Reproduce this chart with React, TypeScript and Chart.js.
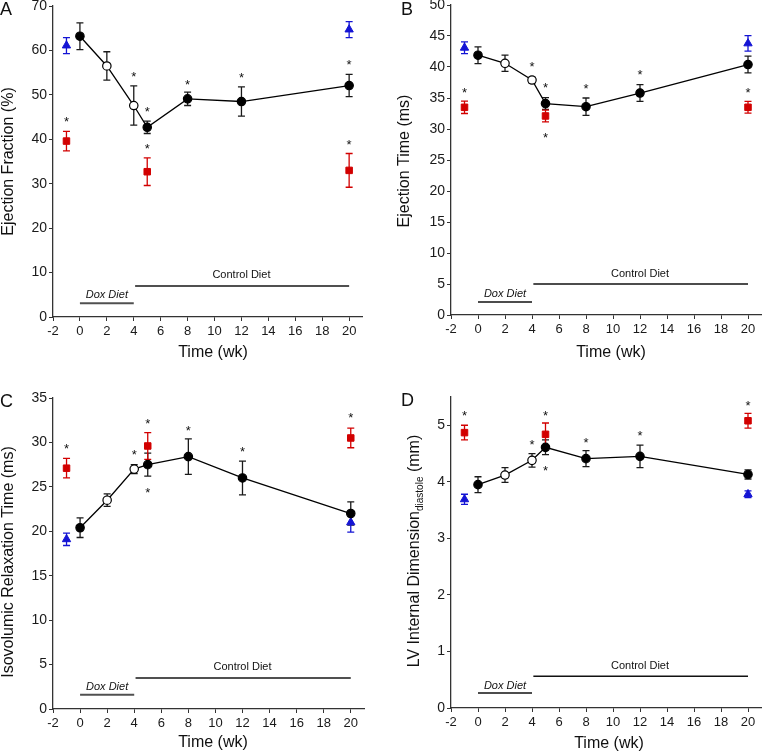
import React, { useEffect, useRef } from 'react';
import { Chart, registerables } from 'chart.js';

Chart.register(...registerables);

const FONT = '"Liberation Sans", Arial, Helvetica, sans-serif';

// ---------- shared ----------
const timeTicks = [-2, 0, 2, 4, 6, 8, 10, 12, 14, 16, 18, 20];
const lineWeeks = [0, 2, 4, 5, 8, 12, 20];
const openWeeks = [2, 4];
const blueWeeks = [-1, 20];
const redWeeks = [-1, 5, 20];
const doxSpan = [0, 4];
const controlSpan = [4.1, 20];
const dietLabels = ['Dox Diet', 'Control Diet'];
const dietLabelWeeks = [2, 12];

// ---------- A: Ejection Fraction ----------
const efMean = [63.2, 56.5, 47.6, 42.7, 49.1, 48.5, 52.1];
const efErr = [3.0, 3.2, 4.4, 1.4, 1.5, 3.3, 2.5];
const efBlue = [61.1, 64.7];
const efBlueErr = [1.8, 1.8];
const efRed = [39.6, 32.7, 33.0];
const efRedErr = [2.2, 3.1, 3.8];
const efStarWeeks = [-1, 4, 5, 5, 8, 12, 20, 20];
const efStarY = [44.6, 54.8, 46.9, 38.5, 53.0, 54.6, 57.4, 39.5];
const efTicks = [0, 10, 20, 30, 40, 50, 60, 70];
const efDietBarY = [3.1, 7.0];
const efDietLabelY = [5.0, 9.45];

// ---------- B: Ejection Time ----------
const etMean = [41.9, 40.6, 37.9, 34.1, 33.6, 35.8, 40.4];
const etErr = [1.35, 1.3, 0.45, 0.95, 1.4, 1.35, 1.35];
const etBlue = [43.1, 43.8];
const etBlueErr = [0.95, 1.25];
const etRed = [33.5, 32.1, 33.5];
const etRedErr = [1.0, 0.95, 0.95];
const etStarWeeks = [-1, 4, 5, 5, 8, 12, 20];
const etStarY = [36.4, 40.6, 37.1, 29.1, 37.0, 39.2, 36.4];
const etTicks = [0, 5, 10, 15, 20, 25, 30, 35, 40, 45, 50];
const etDietBarY = [2.1, 5.0];
const etDietLabelY = [3.4, 6.6];

// ---------- C: Isovolumic Relaxation Time ----------
const ivMean = [20.4, 23.5, 27.0, 27.5, 28.4, 26.0, 22.0];
const ivErr = [1.1, 0.7, 0.5, 1.3, 2.0, 1.9, 1.3];
const ivBlue = [19.1, 21.0];
const ivBlueErr = [0.7, 1.1];
const ivRed = [27.1, 29.6, 30.5];
const ivRedErr = [1.1, 1.5, 1.1];
const ivStarWeeks = [-1, 4, 5, 5, 8, 12, 20];
const ivStarY = [29.7, 29.0, 32.5, 24.7, 31.7, 29.3, 33.1];
const ivTicks = [0, 5, 10, 15, 20, 25, 30, 35];
const ivDietBarY = [1.6, 3.5];
const ivDietLabelY = [2.5, 4.7];

// ---------- D: LV Internal Dimension diastole ----------
const lvMean = [3.95, 4.12, 4.38, 4.61, 4.41, 4.45, 4.13];
const lvErr = [0.14, 0.13, 0.12, 0.13, 0.14, 0.2, 0.08];
const lvBlue = [3.69, 3.78];
const lvBlueErr = [0.09, 0.06];
const lvRed = [4.87, 4.84, 5.08];
const lvRedErr = [0.13, 0.2, 0.13];
const lvStarWeeks = [-1, 4, 5, 5, 8, 12, 20];
const lvStarY = [5.22, 4.71, 5.22, 4.25, 4.74, 4.87, 5.41];
const lvTicks = [0, 1, 2, 3, 4, 5];
const lvDietBarY = [0.265, 0.56];
const lvDietLabelY = [0.39, 0.75];

const BLUE = '#1414d4';
const RED = '#d20000';
const M = 20; // canvas margin around each panel
const PW = 381;
const PH = 377;

type Part = { text: string; size: number; dy: number };

const panels = [
  {
    letter: 'A', px: 0, py: 0,
    area: { l: 53, t: 6, r: 362.6, b: 317 },
    yMax: 70, yTicks: efTicks,
    mean: efMean, err: efErr, blue: efBlue, blueErr: efBlueErr, red: efRed, redErr: efRedErr,
    starWeeks: efStarWeeks, starY: efStarY, dietBarY: efDietBarY, dietLabelY: efDietLabelY,
    dietColor: '#505050', dietWidth: 2,
    yTitle: [{ text: 'Ejection Fraction (%)', size: 16, dy: 0 }] as Part[],
    yTitlePos: [8.5, 161.5], xTitlePos: [213, 353], letterPos: [0, 15],
  },
  {
    letter: 'B', px: 381, py: 0,
    area: { l: 70, t: 5, r: 380.5, b: 315 },
    yMax: 50, yTicks: etTicks,
    mean: etMean, err: etErr, blue: etBlue, blueErr: etBlueErr, red: etRed, redErr: etRedErr,
    starWeeks: etStarWeeks, starY: etStarY, dietBarY: etDietBarY, dietLabelY: etDietLabelY,
    dietColor: '#111', dietWidth: 1.5,
    yTitle: [{ text: 'Ejection Time (ms)', size: 16, dy: 0 }] as Part[],
    yTitlePos: [24, 161], xTitlePos: [230, 353], letterPos: [20, 15],
  },
  {
    letter: 'C', px: 0, py: 377,
    area: { l: 53, t: 21, r: 364.3, b: 332 },
    yMax: 35, yTicks: ivTicks,
    mean: ivMean, err: ivErr, blue: ivBlue, blueErr: ivBlueErr, red: ivRed, redErr: ivRedErr,
    starWeeks: ivStarWeeks, starY: ivStarY, dietBarY: ivDietBarY, dietLabelY: ivDietLabelY,
    dietColor: '#505050', dietWidth: 2,
    yTitle: [{ text: 'Isovolumic Relaxation Time (ms)', size: 16, dy: 0 }] as Part[],
    yTitlePos: [8.5, 185], xTitlePos: [213, 366], letterPos: [0, 30],
  },
  {
    letter: 'D', px: 381, py: 377,
    area: { l: 70, t: 20, r: 380.5, b: 331 },
    yMax: 5.5, yTicks: lvTicks,
    mean: lvMean, err: lvErr, blue: lvBlue, blueErr: lvBlueErr, red: lvRed, redErr: lvRedErr,
    starWeeks: lvStarWeeks, starY: lvStarY, dietBarY: lvDietBarY, dietLabelY: lvDietLabelY,
    dietColor: '#111', dietWidth: 1.5,
    yTitle: [
      { text: 'LV Internal Dimension', size: 16, dy: 0 },
      { text: 'diastole', size: 10, dy: 6 },
      { text: ' (mm)', size: 16, dy: 0 },
    ] as Part[],
    yTitlePos: [33.5, 174], xTitlePos: [228, 367], letterPos: [20, 29],
  },
];

type PanelCfg = (typeof panels)[number];

function Panel({ cfg }: { cfg: PanelCfg }) {
  const ref = useRef<HTMLCanvasElement | null>(null);

  useEffect(() => {
    const canvas = ref.current;
    if (!canvas) return;
    const W = PW + 2 * M;
    const H = PH + 2 * M;
    const tgt = {
      left: cfg.area.l + M,
      top: cfg.area.t + M,
      right: cfg.area.r + M,
      bottom: cfg.area.b + M,
    };

    const drawErr = (chart: any, xs: number[], ys: number[], es: number[], color: string) => {
      const ctx = chart.ctx;
      const xS = chart.scales.x;
      const yS = chart.scales.y;
      ctx.save();
      ctx.strokeStyle = color;
      ctx.lineWidth = 1.3;
      xs.forEach((w, i) => {
        const px = xS.getPixelForValue(w);
        const t = yS.getPixelForValue(ys[i] + es[i]);
        const b = yS.getPixelForValue(ys[i] - es[i]);
        ctx.beginPath();
        ctx.moveTo(px, t);
        ctx.lineTo(px, b);
        ctx.moveTo(px - 3.5, t);
        ctx.lineTo(px + 3.5, t);
        ctx.moveTo(px - 3.5, b);
        ctx.lineTo(px + 3.5, b);
        ctx.stroke();
      });
      ctx.restore();
    };

    const plugin = {
      id: 'panelDecor' + cfg.letter,
      beforeDatasetsDraw(chart: any) {
        drawErr(chart, lineWeeks, cfg.mean, cfg.err, '#1a1a1a');
        drawErr(chart, blueWeeks, cfg.blue, cfg.blueErr, BLUE);
        drawErr(chart, redWeeks, cfg.red, cfg.redErr, RED);
      },
      afterDatasetsDraw(chart: any) {
        const ctx = chart.ctx;
        const xS = chart.scales.x;
        const yS = chart.scales.y;
        ctx.save();
        // asterisks
        ctx.fillStyle = '#111';
        ctx.font = `13px ${FONT}`;
        ctx.textAlign = 'center';
        ctx.textBaseline = 'alphabetic';
        cfg.starWeeks.forEach((w, i) => {
          ctx.fillText('*', xS.getPixelForValue(w), yS.getPixelForValue(cfg.starY[i]) + 7.5);
        });
        // diet bars
        ctx.strokeStyle = cfg.dietColor;
        ctx.lineWidth = cfg.dietWidth;
        [doxSpan, controlSpan].forEach((span, i) => {
          const y = yS.getPixelForValue(cfg.dietBarY[i]);
          ctx.beginPath();
          ctx.moveTo(xS.getPixelForValue(span[0]), y);
          ctx.lineTo(xS.getPixelForValue(span[1]), y);
          ctx.stroke();
        });
        ctx.textBaseline = 'middle';
        dietLabels.forEach((lab, i) => {
          ctx.font = i === 0 ? `italic 11px ${FONT}` : `11px ${FONT}`;
          ctx.fillText(lab, xS.getPixelForValue(dietLabelWeeks[i]), yS.getPixelForValue(cfg.dietLabelY[i]));
        });
        ctx.restore();
      },
      afterDraw(chart: any) {
        const ctx = chart.ctx;
        ctx.save();
        ctx.fillStyle = '#111';
        // panel letter
        ctx.font = `18px ${FONT}`;
        ctx.textAlign = 'left';
        ctx.textBaseline = 'alphabetic';
        ctx.fillText(cfg.letter, cfg.letterPos[0] + M, cfg.letterPos[1] + M);
        // x title
        ctx.font = `16px ${FONT}`;
        ctx.textAlign = 'center';
        ctx.textBaseline = 'middle';
        ctx.fillText('Time (wk)', cfg.xTitlePos[0] + M, cfg.xTitlePos[1] + M);
        // y title (rotated, with optional subscript)
        ctx.translate(cfg.yTitlePos[0] + M, cfg.yTitlePos[1] + M);
        ctx.rotate(-Math.PI / 2);
        let total = 0;
        const widths = cfg.yTitle.map((p) => {
          ctx.font = `${p.size}px ${FONT}`;
          const w = ctx.measureText(p.text).width;
          total += w;
          return w;
        });
        let x = -total / 2;
        ctx.textAlign = 'left';
        cfg.yTitle.forEach((p, i) => {
          ctx.font = `${p.size}px ${FONT}`;
          ctx.fillText(p.text, x, p.dy);
          x += widths[i];
        });
        ctx.restore();
      },
    };

    const padding = { left: M, top: tgt.top, right: W - tgt.right, bottom: M };

    const chart = new Chart(canvas, {
      type: 'scatter',
      data: {
        datasets: [
          {
            data: lineWeeks.map((w, i) => ({ x: w, y: cfg.mean[i] })),
            showLine: true,
            borderColor: '#000',
            borderWidth: 1.3,
            pointRadius: 4.2,
            pointBorderWidth: 1.2,
            pointBorderColor: '#000',
            pointBackgroundColor: lineWeeks.map((w) => (openWeeks.includes(w) ? '#fff' : '#000')),
            pointStyle: 'circle',
            clip: false,
          },
          {
            data: blueWeeks.map((w, i) => ({ x: w, y: cfg.blue[i] })),
            showLine: false,
            pointStyle: 'triangle',
            pointRadius: 4.8,
            pointBorderWidth: 1,
            pointBorderColor: BLUE,
            pointBackgroundColor: BLUE,
            clip: false,
          },
          {
            data: redWeeks.map((w, i) => ({ x: w, y: cfg.red[i] })),
            showLine: false,
            pointStyle: 'rect',
            pointRadius: 4.6,
            pointBorderWidth: 1,
            pointBorderColor: RED,
            pointBackgroundColor: RED,
            clip: false,
          },
        ],
      } as any,
      options: {
        animation: false,
        responsive: false,
        maintainAspectRatio: false,
        events: [],
        layout: { padding },
        plugins: { legend: { display: false }, tooltip: { enabled: false }, title: { display: false } },
        scales: {
          x: {
            type: 'linear',
            min: -2,
            max: 21,
            afterBuildTicks: (s: any) => {
              s.ticks = timeTicks.map((v) => ({ value: v }));
            },
            afterFit: (s: any) => {
              s.height = H - tgt.bottom - M;
            },
            ticks: {
              font: { family: FONT, size: 13 },
              color: '#1a1a1a',
              padding: 3,
              maxRotation: 0,
              autoSkip: false,
            },
            grid: { display: true, drawOnChartArea: false, drawTicks: true, tickLength: 4, color: '#333', lineWidth: 1 },
            border: { display: true, color: '#333', width: 1.3 },
          },
          y: {
            type: 'linear',
            min: 0,
            max: cfg.yMax,
            afterBuildTicks: (s: any) => {
              s.ticks = cfg.yTicks.map((v) => ({ value: v }));
            },
            afterFit: (s: any) => {
              s.width = cfg.area.l;
            },
            ticks: {
              font: { family: FONT, size: 14 },
              color: '#1a1a1a',
              padding: 2,
            },
            grid: { display: true, drawOnChartArea: false, drawTicks: true, tickLength: 4, color: '#333', lineWidth: 1 },
            border: { display: true, color: '#333', width: 1.3 },
          },
        },
      } as any,
      plugins: [plugin as any],
    });

    // correct the layout so the plot area lands exactly on the target box
    for (let k = 0; k < 3; k++) {
      const ca = chart.chartArea;
      const dl = tgt.left - ca.left;
      const dt = tgt.top - ca.top;
      const dr = tgt.right - ca.right;
      const db = tgt.bottom - ca.bottom;
      if (Math.abs(dl) + Math.abs(dt) + Math.abs(dr) + Math.abs(db) < 0.2) break;
      const p = {
        left: padding.left + dl,
        top: padding.top + dt,
        right: padding.right - dr,
        bottom: padding.bottom - db,
      };
      padding.left = p.left;
      padding.top = p.top;
      padding.right = p.right;
      padding.bottom = p.bottom;
      (chart.options as any).layout.padding = { ...p };
      chart.update('none');
    }

    return () => chart.destroy();
  }, [cfg]);

  return (
    <canvas
      ref={ref}
      width={PW + 2 * M}
      height={PH + 2 * M}
      style={{
        position: 'absolute',
        left: cfg.px - M,
        top: cfg.py - M,
        width: PW + 2 * M,
        height: PH + 2 * M,
      }}
    />
  );
}

export default function App() {
  return (
    <div
      style={{
        position: 'absolute',
        left: 0,
        top: 0,
        width: 762,
        height: 754,
        overflow: 'hidden',
        background: '#fff',
      }}
    >
      {panels.map((p) => (
        <Panel key={p.letter} cfg={p} />
      ))}
    </div>
  );
}
